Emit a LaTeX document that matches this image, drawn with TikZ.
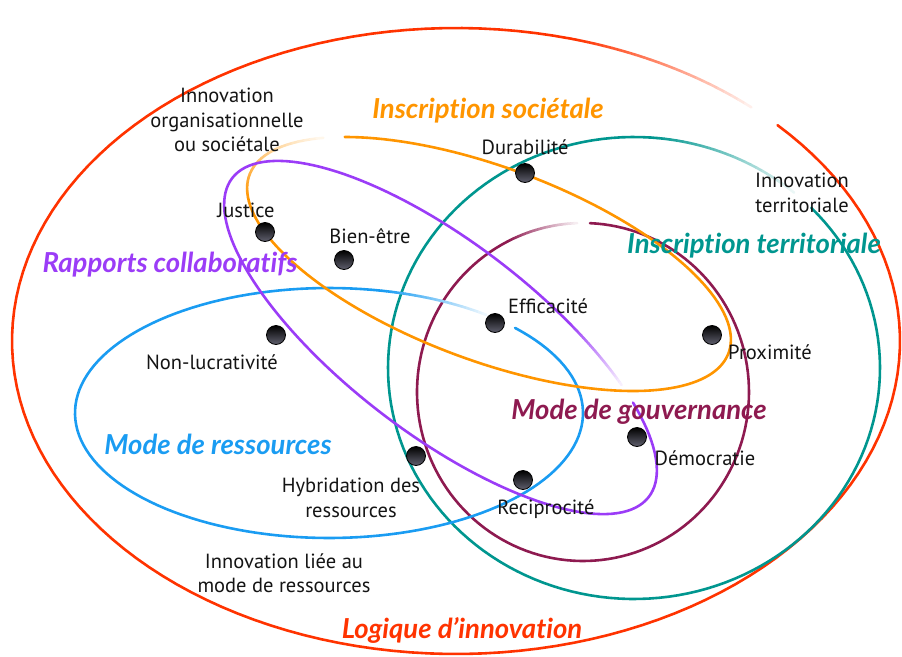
\documentclass[tikz,border=0pt]{standalone}
\usepackage{fontspec}
\setmainfont{PT Sans}
\newfontfamily\ttlfont[Ligatures={NoCommon}]{Lato}
\definecolor{cRed}{HTML}{FF3300}
\definecolor{cOrange}{HTML}{FF9500}
\definecolor{cTeal}{HTML}{00968F}
\definecolor{cMaroon}{HTML}{8E1A50}
\definecolor{cBlue}{HTML}{1A9CF2}
\definecolor{cPurple}{HTML}{9B3CF7}
\definecolor{cDotB}{HTML}{60606E}
\tikzset{
  ring/.style={line width=2.6pt, line cap=round, line join=round},
  dot/.style={circle, draw=black, line width=0.8pt, minimum size=19pt, inner sep=0pt, top color=black, bottom color=cDotB},
  lbl/.style={font=\fontsize{20.5}{24.5}\selectfont, align=center, text=black!92, inner sep=0pt},
  ttl/.style={font=\ttlfont\fontsize{27.5}{30}\selectfont\bfseries\itshape, inner sep=0pt},
}
% cx cy rx ry rot colour t0(fade start) t1(gap start) t2(resume)
\newcommand\fadeell[9]{%
  \begin{scope}[shift={(#1,#2)},rotate=#5]
    \pgfmathsetmacro\tend{#7+360}
    \draw[#6,ring] plot[domain=#9:\tend,samples=140] ({#3*cos(\x)},{#4*sin(\x)});
    \foreach \i in {0,...,23}{
      \pgfmathsetmacro\ta{#7+(#8-#7)*\i/24}
      \pgfmathsetmacro\tb{#7+(#8-#7)*(\i+1)/24}
      \pgfmathtruncatemacro\pc{100-92*\i/23}
      \draw[draw=#6!\pc!white,ring] ({#3*cos(\ta)},{#4*sin(\ta)}) -- ({#3*cos(\tb)},{#4*sin(\tb)});
    }
  \end{scope}}
\begin{document}
\begin{tikzpicture}[x=1pt,y=-1pt]
\useasboundingbox (0,0) rectangle (902,656);
% ellipses
\fadeell{456}{341}{444}{313}{0}{cRed}{-75}{-48.3}{-43.6}
\fadeell{634}{368}{246}{231}{0}{cTeal}{-86}{-49.4}{-43.9}
\fadeell{583}{392}{166}{169}{0}{cMaroon}{-117}{-92}{-87.6}
\fadeell{329}{413}{254}{125}{0}{cBlue}{-78}{-51.7}{-42.9}
\fadeell{489}{264}{255.6}{96.6}{-20.4}{cOrange}{165}{218.8}{225.4}
\fadeell{440.5}{337.5}{262.3}{96}{-37.4}{cPurple}{-69.4}{-48.8}{-42.8}
% titles
\node[ttl, text=cOrange] (insoc) at (488,111) {Inscription sociétale};
\node[ttl, text=cPurple] (rapports) at (170,265) {Rapports collaboratifs};
\node[ttl, text=cTeal] (interr) at (754,246) {Inscription territoriale};
\node[ttl, text=cMaroon] (gouv) at (639,412) {Mode de gouvernance};
\node[ttl, text=cBlue] (ress) at (218,444) {Mode de ressources};
\node[ttl, text=cRed] (logique) at (462,630) {Logique d’innovation};
% labels
\node[lbl] (innovorg) at (227,120) {Innovation\\organisationnelle\\ou sociétale};
\node[lbl] (innovterr) at (802,193) {Innovation\\territoriale};
\node[lbl] (innovres) at (284,573) {Innovation liée au\\mode de ressources};
\node[lbl] (ldur) at (525,147) {Durabilité};
\node[lbl] (ljus) at (246,210) {Justice};
\node[lbl] (lbien) at (370,236) {Bien-être};
\node[lbl] (leff) at (548,306) {Efficacité};
\node[lbl] (lnon) at (212,362) {Non-lucrativité};
\node[lbl] (lprox) at (770,352) {Proximité};
\node[lbl] (ldemo) at (705,458) {Démocratie};
\node[lbl] (lhyb) at (351,498) {Hybridation des\\ressources};
\node[lbl] (lrec) at (546,509) {Reciprocité};
% dots
\node[dot] (ddur) at (525,173) {};
\node[dot] (djus) at (265,232) {};
\node[dot] (dbien) at (344,260) {};
\node[dot] (dnon) at (276,335) {};
\node[dot] (deff) at (495,323) {};
\node[dot] (dprox) at (712,335) {};
\node[dot] (ddemo) at (637,437) {};
\node[dot] (dhyb) at (416,456) {};
\node[dot] (drec) at (523,480) {};
\end{tikzpicture}
\end{document}
